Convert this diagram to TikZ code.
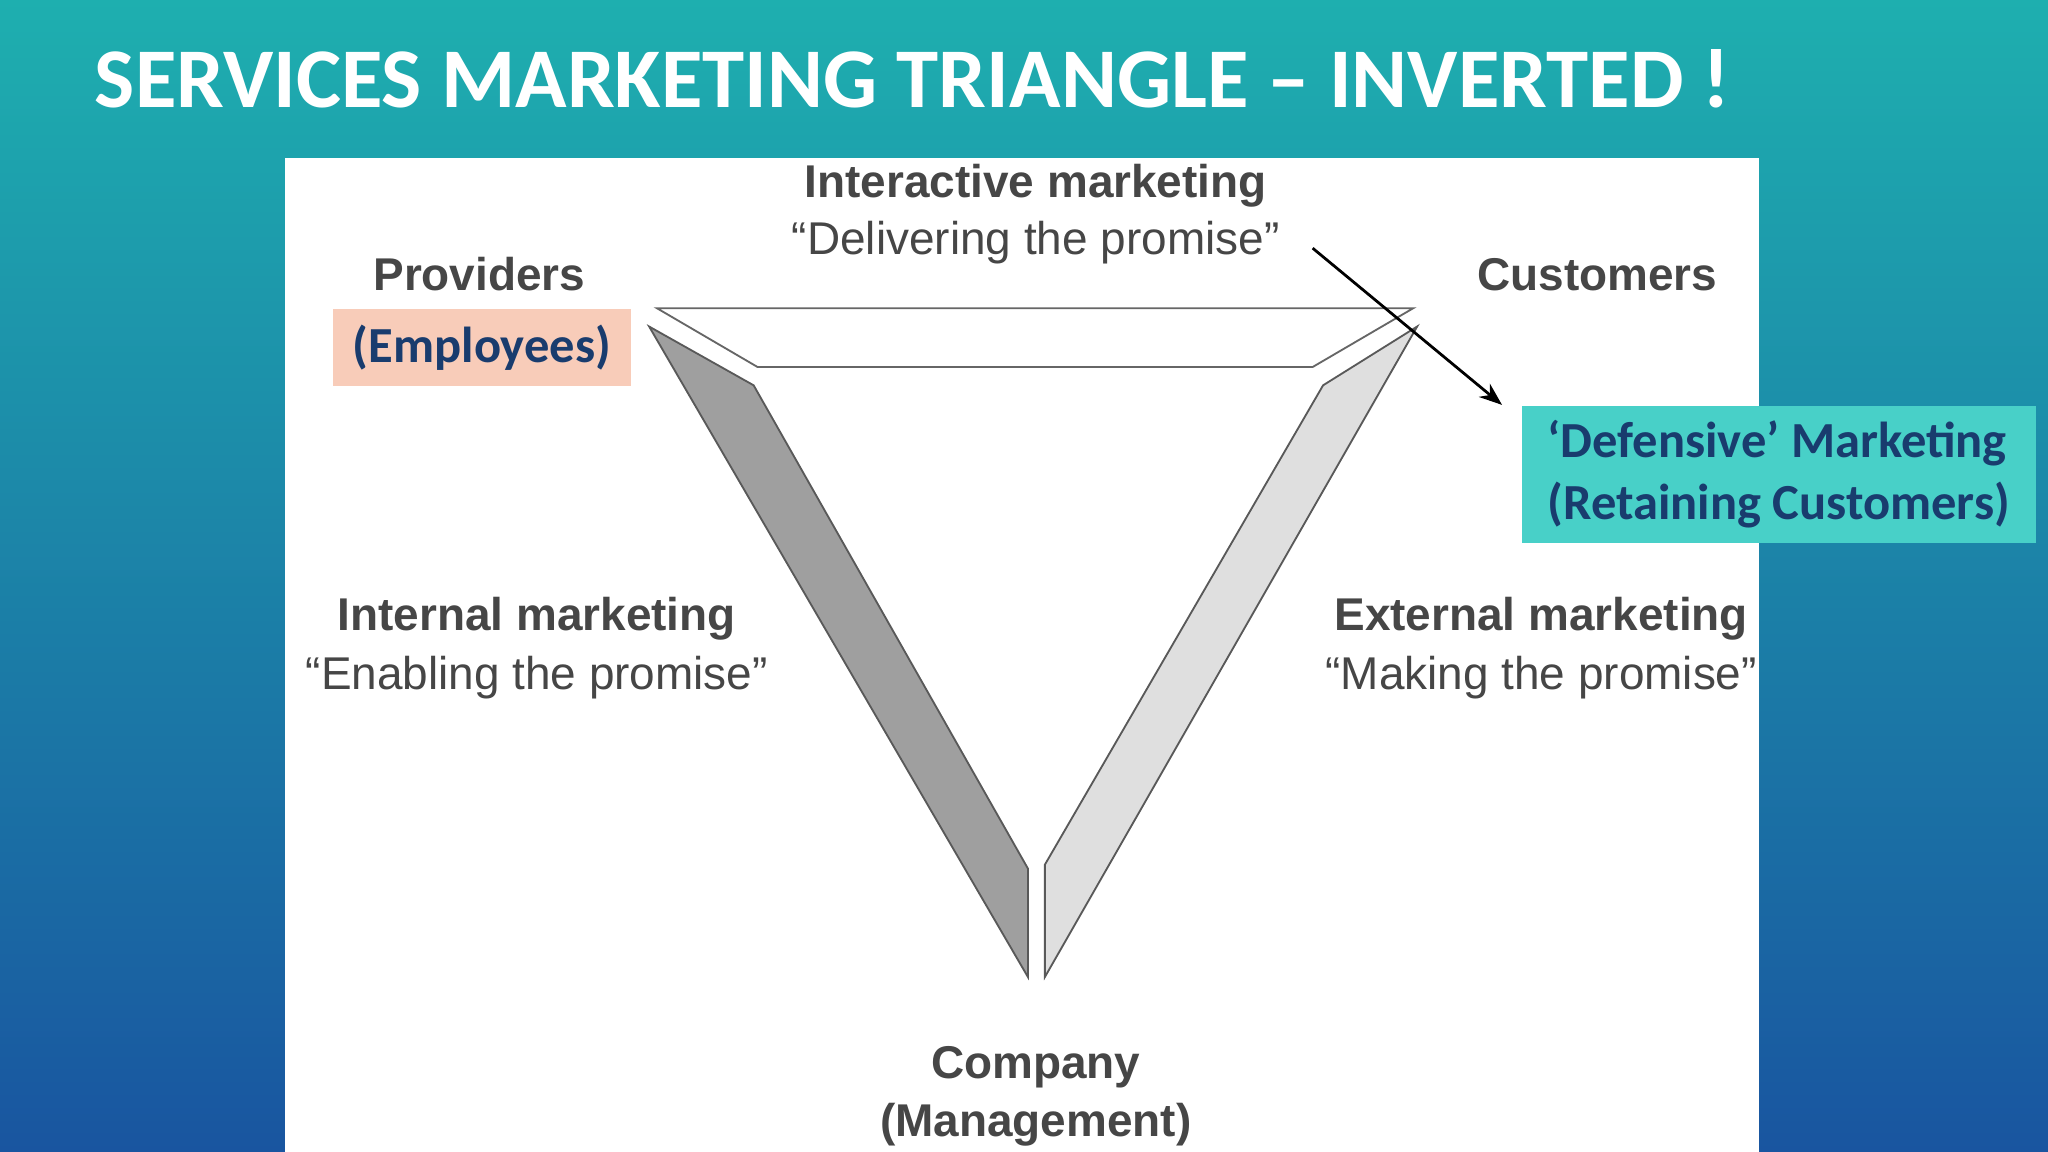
\documentclass[tikz,border=0pt]{standalone}
\usepackage{fontspec}
\setmainfont{Liberation Sans}
\newfontfamily\carlitofont{Carlito}
\usetikzlibrary{arrows.meta}
\definecolor{lbl}{RGB}{70,70,70}
\definecolor{dblue}{RGB}{25,60,110}
\definecolor{pinkb}{RGB}{248,204,185}
\definecolor{tealb}{RGB}{72,208,200}
\tikzset{lab/.style={text=lbl,font=\fontsize{10}{12}\selectfont\bfseries},
 sub/.style={text=lbl,font=\fontsize{10}{12}\selectfont},
 hbox/.style={text=dblue,font=\carlitofont\fontsize{11}{13.5}\selectfont\bfseries,align=left,inner sep=3pt}}
\begin{document}
\begin{tikzpicture}[x=0.01cm,y=-0.01cm]
\useasboundingbox (0,0) rectangle (1568,882);
\shade[top color={rgb,255:red,30;green,175;blue,175},bottom color={rgb,255:red,25;green,85;blue,160}] (0,0) rectangle (1568,882);
\fill[white] (218,121) rectangle (1347,882);
\node[anchor=west,text=white,font=\carlitofont\fontsize{18.5}{22}\selectfont\bfseries,inner sep=0pt] (title) at (72,60) {SERVICES MARKETING TRIANGLE – INVERTED !};
\draw[gray!80!black,fill=white] (503,236)--(1082,236)--(1005,281)--(580,281)--cycle;
\draw[gray!70!black,fill=gray!75] (497,250)--(577,295)--(787,665)--(787,748)--cycle;
\draw[gray!70!black,fill=gray!25] (1085,250)--(1013,295)--(800,662)--(800,748)--cycle;
\node[lab] (prov) at (367,210) {Providers};
\node[hbox,fill=pinkb,minimum width=2.28cm,minimum height=0.59cm] (emp) at (369,266) {(Employees)};
\node[lab] (inter) at (793,142) {Interactive marketing};
\node[sub] (deliv) at (793,186) {“Delivering the promise”};
\node[lab] (cust) at (1223,210) {Customers};
\node[lab] (intm) at (411,474) {Internal marketing};
\node[sub] (enab) at (411,519) {“Enabling the promise”};
\node[lab] (extm) at (1180,474) {External marketing};
\node[sub] (mak) at (1180,519) {“Making the promise”};
\node[lab] (comp) at (793,817) {Company};
\node[lab] (mgmt) at (793,861) {(Management)};
\node[hbox,fill=tealb,minimum width=3.93cm,minimum height=1.05cm] (def) at (1362,363) {‘Defensive’ Marketing\\(Retaining Customers)};
\coordinate (a1) at (1005,190);
\coordinate (a2) at (1150,310);
\draw[-{Stealth[length=5pt]},semithick] (a1)--(a2);
\end{tikzpicture}
\end{document}
